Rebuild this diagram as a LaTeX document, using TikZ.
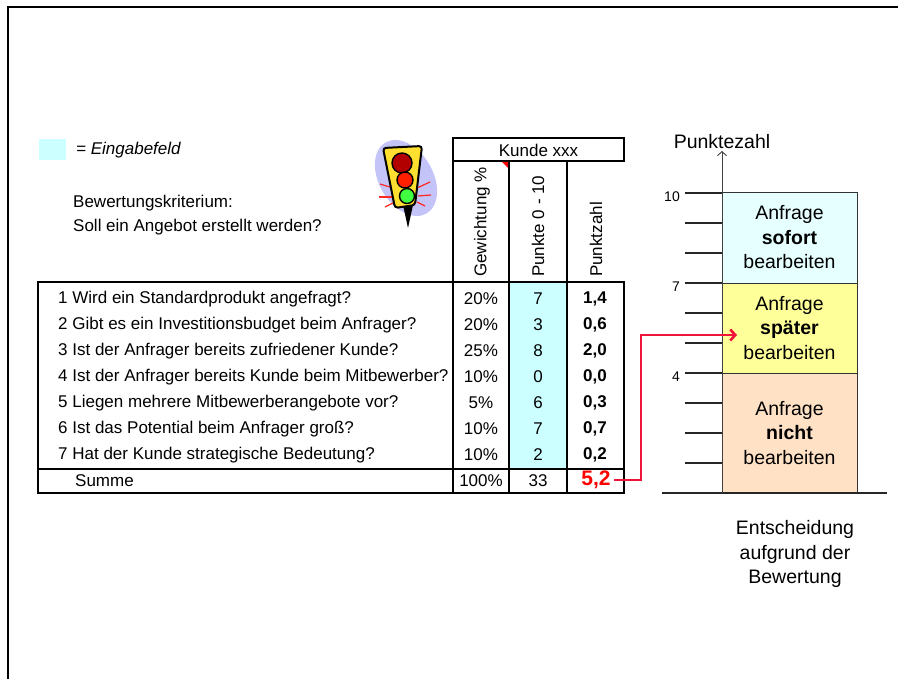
\documentclass[tikz,border=0pt]{standalone}
\usepackage{fontspec}
\setmainfont{Liberation Sans}
\usetikzlibrary{calc,arrows.meta}

\definecolor{inputcyan}{HTML}{CCFFFF}
\definecolor{topbox}{HTML}{E6FFFF}
\definecolor{midbox}{HTML}{FFFF99}
\definecolor{lowbox}{HTML}{FFE1C6}
\definecolor{linkred}{HTML}{F0143C}
\definecolor{lavender}{HTML}{C4C4F8}
\definecolor{lampyellow}{HTML}{FFE030}

\begin{document}
\begin{tikzpicture}[x=1pt,y=-1pt,
  txt/.style={font=\fontsize{17}{24}\selectfont, inner sep=0pt},
  big/.style={font=\fontsize{19.5}{24.5}\selectfont, inner sep=0pt, align=center},
  grid/.style={line width=2pt},
  tick/.style={line width=1.3pt, black!85},
  stage/.style={big, draw=black!80, line width=0.9pt, minimum width=135pt},
  link/.style={line width=2.6pt, draw=linkred, -{Straight Barb[length=5pt,width=11pt]}},
  axis/.style={line width=0.9pt, black!75, -{Straight Barb[length=4pt,width=9pt]}}]
  \useasboundingbox (0,0) rectangle (898,679);
  \draw[line width=2pt] (898,7) -- (8,7) -- (8,679);

  % legend and question
  \fill[inputcyan] (39,139) rectangle (66,160);
  \node[txt, anchor=west] (legend) at (76,150) {\itshape = Eingabefeld};
  \node[txt, anchor=west, align=left] (crit) at (73,215) {Bewertungskriterium:\\Soll ein Angebot erstellt werden?};

  % traffic light
  \fill[lavender, rotate around={30:(406,178)}] (406,178) ellipse [x radius=27, y radius=41];
  \foreach \a/\b in {{(380,184)}/{(393,188)}, {(379,197)}/{(393,197)}, {(385,207)}/{(395,202)},
                     {(430,182)}/{(417,188)}, {(431,195)}/{(418,196)}, {(425,206)}/{(417,202)}}
    \draw[red!85, line width=1.2pt] \a -- \b;
  \fill (403,205) -- (413,205) -- (408,228) -- cycle;
  \filldraw[fill=lampyellow, line width=2pt, rounded corners=3pt]
    (383,148) -- (422,146) -- (415,205) -- (395,208) -- cycle;
  \filldraw[fill=red!70!black, line width=1.4pt] (402,163) circle [radius=10];
  \filldraw[fill=red!75!orange, line width=1.4pt] (405,180) circle [radius=8];
  \filldraw[fill=green!75!white, line width=1.4pt] (407,196) circle [radius=7.5];

  % table
  \fill[inputcyan] (509,282) rectangle (567,469);
  \draw[grid] (453,138) rectangle (624,161);
  \draw[grid] (38,282) rectangle (624,493);
  \draw[grid] (38,469) -- (624,469);
  \foreach \x in {453,509,567} \draw[grid] (\x,161) -- (\x,493);
  \fill[red] (502,162) -- (508,162) -- (508,168) -- cycle;
  \node[txt] (kunde) at (538.5,150) {Kunde xxx};
  \node[txt, rotate=90, anchor=west] (hw) at (482,277) {Gewichtung \%};
  \node[txt, rotate=90, anchor=west] (hp) at (538,277) {Punkte 0 - 10};
  \node[txt, rotate=90, anchor=west] (hs) at (596,277) {Punktzahl};

  \foreach \i/\q/\w/\p/\s in {
    1/Wird ein Standardprodukt angefragt?/20/7/{1,4},
    2/Gibt es ein Investitionsbudget beim Anfrager?/20/3/{0,6},
    3/Ist der Anfrager bereits zufriedener Kunde?/25/8/{2,0},
    4/Ist der Anfrager bereits Kunde beim Mitbewerber?/10/0/{0,0},
    5/Liegen mehrere Mitbewerberangebote vor?/5/6/{0,3},
    6/Ist das Potential beim Anfrager groß?/10/7/{0,7},
    7/Hat der Kunde strategische Bedeutung?/10/2/{0,2}} {
    \node[txt, anchor=west] (q\i) at (58,{273+26*\i}) {\i\ \q};
    \node[txt] (w\i) at (481,{273+26*\i}) {\w\%};
    \node[txt] (p\i) at (538,{273+26*\i}) {\p};
    \node[txt, font=\bfseries\fontsize{17}{20}\selectfont] (s\i) at (595,{273+26*\i}) {\s};
  }
  \node[txt, anchor=west] (sumlabel) at (75,481) {Summe};
  \node[txt] (sumw) at (481,481) {100\%};
  \node[txt] (sump) at (538,481) {33};
  \node[font=\bfseries\fontsize{21}{24}\selectfont, text=red, inner sep=3pt] (sum) at (596,480) {5,2};

  % scale
  \foreach \k in {1,...,10} \draw[tick] (685,{493-30*\k}) -- (722,{493-30*\k});
  \node[stage, fill=lowbox, minimum height=120pt] (nicht) at (789.5,433) {Anfrage\\\textbf{nicht}\\bearbeiten};
  \node[stage, fill=midbox, minimum height=90pt] (spaeter) at (789.5,328) {Anfrage\\\textbf{später}\\bearbeiten};
  \node[stage, fill=topbox, minimum height=91pt] (sofort) at (789.5,237.5) {Anfrage\\\textbf{sofort}\\bearbeiten};
  \coordinate (origin) at (722,493);
  \coordinate (ytop) at (722,151);
  \draw[tick] (662,493) -- (887,493);
  \draw[axis] (origin) -- (ytop);
  \node[big] (ylabel) at (722,142) {Punktezahl};
  \foreach \v in {4,7,10}
    \node[font=\fontsize{14}{16}\selectfont, anchor=east, inner sep=0pt] (lab\v) at (680,{497-30*\v}) {\v};
  \node[big] (decision) at (795,554) {Entscheidung\\aufgrund der\\Bewertung};

  % link from sum to scale
  \coordinate (bend) at (641,335);
  \coordinate (target) at (737,335);
  \draw[link] (sum.east) -| (bend) -- (target);
\end{tikzpicture}
\end{document}
